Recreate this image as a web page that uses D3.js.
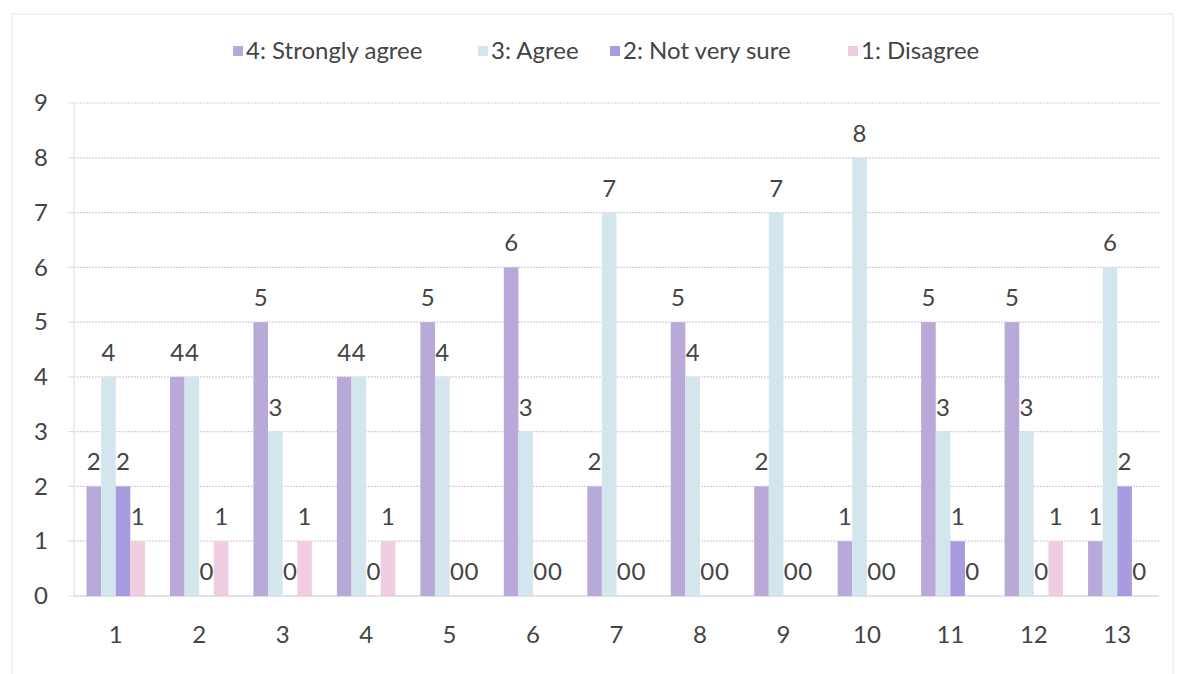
<!DOCTYPE html>
<html lang="en">
<head>
  <meta charset="UTF-8">
  <title>Responses by item</title>
  <script src="https://d3js.org/d3.v7.min.js"></script>
  <style>
    body {margin: 0; background: #fff;}
    .tick-label {font-family: Lato, "Open Sans", sans-serif; font-size: 24px; fill: #444;}
    .value-label {font-family: Lato, "Open Sans", sans-serif; font-size: 24px; fill: #444;}
    .legend-label {font-family: Lato, "Open Sans", sans-serif; font-size: 24px; fill: #444;}
    .grid-line {stroke: #d9cbe8; stroke-width: 1.2; stroke-dasharray: 2, 1;}
  </style>
</head>
<body>
<div id="chart"></div>
<script>
const categories = ["1", "2", "3", "4", "5", "6", "7", "8", "9", "10", "11", "12", "13"];
const seriesNames = ["4: Strongly agree", "3: Agree", "2: Not very sure", "1: Disagree"];
const stronglyAgree = [2, 4, 5, 4, 5, 6, 2, 5, 2, 1, 5, 5, 1];
const agree = [4, 4, 3, 4, 4, 3, 7, 4, 7, 8, 3, 3, 6];
const notVerySure = [2, 0, 0, 0, 0, 0, 0, 0, 0, 0, 1, 0, 2];
const disagree = [1, 1, 1, 1, 0, 0, 0, 0, 0, 0, 0, 1, 0];
const yTicks = [0, 1, 2, 3, 4, 5, 6, 7, 8, 9];

const seriesValues = [stronglyAgree, agree, notVerySure, disagree];
const colors = ["#b9a9d9", "#d3e6ee", "#a99be0", "#f0cde0"];

const width = 1181, height = 674;
const margin = {top: 103, right: 22, bottom: 78, left: 74};

const svg = d3.select("#chart").append("svg")
  .attr("width", width)
  .attr("height", height);

// faint frame of the scanned chart
svg.append("rect")
  .attr("x", 12).attr("y", 14)
  .attr("width", width - 20).attr("height", height - 10)
  .attr("fill", "none")
  .attr("stroke", "#e6e6ea");

const x = d3.scaleBand()
  .domain(categories)
  .range([margin.left, width - margin.right])
  .paddingInner(0.3)
  .paddingOuter(0.15);

const xSub = d3.scaleBand()
  .domain(d3.range(seriesNames.length))
  .range([0, x.bandwidth()]);

const y = d3.scaleLinear()
  .domain([0, 9])
  .range([height - margin.bottom, margin.top]);

// gridlines
svg.append("g").selectAll("line")
  .data(yTicks)
  .join("line")
  .attr("class", "grid-line")
  .attr("x1", margin.left - 6)
  .attr("x2", width - margin.right)
  .attr("y1", d => y(d))
  .attr("y2", d => y(d));

// axes
svg.append("line")
  .attr("x1", margin.left).attr("x2", margin.left)
  .attr("y1", y(9)).attr("y2", y(0))
  .attr("stroke", "#e8d4e6");
svg.append("line")
  .attr("x1", margin.left).attr("x2", width - margin.right)
  .attr("y1", y(0)).attr("y2", y(0))
  .attr("stroke", "#d6d0e0");

const yAxis = d3.axisLeft(y).tickValues(yTicks).tickSize(0).tickPadding(26);
svg.append("g")
  .attr("transform", `translate(${margin.left},0)`)
  .call(yAxis)
  .call(g => g.select(".domain").remove())
  .call(g => g.selectAll("text").attr("class", "tick-label"));

const xAxis = d3.axisBottom(x).tickSize(0).tickPadding(30);
svg.append("g")
  .attr("transform", `translate(0,${y(0)})`)
  .call(xAxis)
  .call(g => g.select(".domain").remove())
  .call(g => g.selectAll("text").attr("class", "tick-label"));

// bars
const groups = svg.append("g").selectAll("g")
  .data(categories)
  .join("g")
  .attr("transform", d => `translate(${x(d)},0)`);

groups.selectAll("rect")
  .data((c, i) => seriesValues.map((vals, s) => ({s, v: vals[i]})))
  .join("rect")
  .attr("x", d => xSub(d.s))
  .attr("width", xSub.bandwidth())
  .attr("y", d => y(d.v))
  .attr("height", d => y(0) - y(d.v))
  .attr("fill", d => colors[d.s]);

groups.selectAll("text")
  .data((c, i) => seriesValues.map((vals, s) => ({s, v: vals[i]})))
  .join("text")
  .attr("class", "value-label")
  .attr("x", d => xSub(d.s) + xSub.bandwidth() / 2)
  .attr("y", d => y(d.v) - 16)
  .attr("text-anchor", "middle")
  .text(d => d.v);

// legend
const legendX = [233, 478, 610, 848];
const legend = svg.append("g").selectAll("g")
  .data(seriesNames)
  .join("g")
  .attr("transform", (d, i) => `translate(${legendX[i]},51)`);
legend.append("rect")
  .attr("x", 0).attr("y", -5)
  .attr("width", 10).attr("height", 10)
  .attr("fill", (d, i) => colors[i]);
legend.append("text")
  .attr("class", "legend-label")
  .attr("x", 13)
  .attr("dy", "0.35em")
  .text(d => d);
</script>
</body>
</html>
